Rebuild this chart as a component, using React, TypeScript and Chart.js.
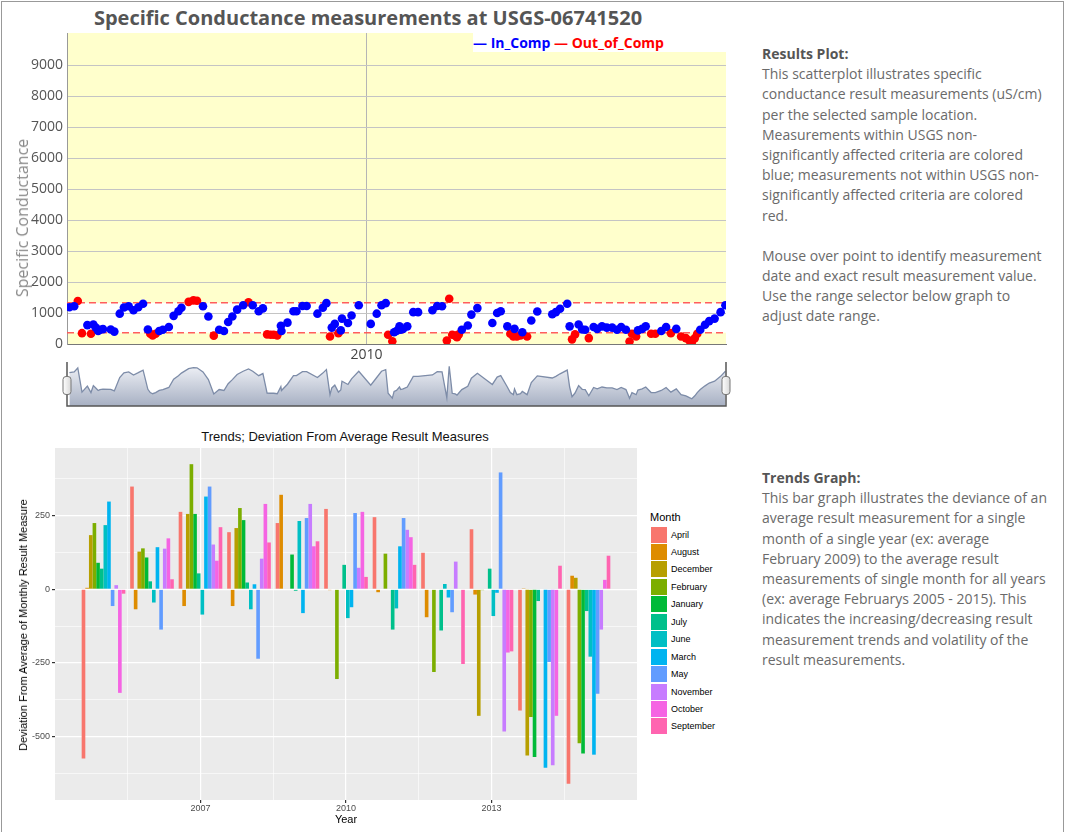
import React, { useEffect, useRef } from 'react';
import { Chart, registerables } from 'chart.js';
Chart.register(...registerables);

// ---------- Top scatter: specific conductance samples ----------
const sampleDates = [
  2005.04, 2005.12, 2005.18, 2005.25, 2005.34, 2005.40, 2005.44, 2005.48, 2005.52, 2005.55,
  2005.60, 2005.73, 2005.79, 2005.88, 2005.95, 2006.03, 2006.11, 2006.19, 2006.27, 2006.35,
  2006.39, 2006.43, 2006.48, 2006.54, 2006.60, 2006.70, 2006.78, 2006.86, 2006.91, 2007.03,
  2007.11, 2007.17, 2007.27, 2007.36, 2007.45, 2007.54, 2007.62, 2007.69, 2007.76, 2007.84,
  2007.94, 2008.03, 2008.10, 2008.20, 2008.27, 2008.34, 2008.40, 2008.45, 2008.51, 2008.57,
  2008.58, 2008.68, 2008.78, 2008.83, 2008.93, 2009.00, 2009.18, 2009.27, 2009.33, 2009.39,
  2009.42, 2009.47, 2009.53, 2009.57, 2009.59, 2009.69, 2009.75, 2009.87, 2010.07, 2010.17,
  2010.25, 2010.32, 2010.36, 2010.43, 2010.46, 2010.50, 2010.55, 2010.57, 2010.61, 2010.68,
  2010.78, 2010.86, 2011.10, 2011.18, 2011.26, 2011.34, 2011.38, 2011.43, 2011.48, 2011.51,
  2011.54, 2011.59, 2011.69, 2011.75, 2011.85, 2012.10, 2012.18, 2012.24, 2012.35, 2012.40,
  2012.45, 2012.47, 2012.51, 2012.57, 2012.60, 2012.68, 2012.75, 2012.85, 2013.10, 2013.16,
  2013.23, 2013.35, 2013.39, 2013.43, 2013.48, 2013.54, 2013.60, 2013.65, 2013.71, 2013.79,
  2013.85, 2013.93, 2014.01, 2014.10, 2014.18, 2014.25, 2014.33, 2014.39, 2014.43, 2014.50,
  2014.53, 2014.60, 2014.66, 2014.75, 2014.82, 2014.92, 2015.00, 2015.08, 2015.17, 2015.25,
  2015.33, 2015.39, 2015.43, 2015.48, 2015.52, 2015.57, 2015.65, 2015.72, 2015.81, 2015.91,
  2015.99,
];
const conductance = [
  1190, 1220, 1390, 350, 610, 330, 630, 530, 420, 460,
  480, 470, 400, 980, 1180, 1220, 1090, 1190, 1300, 470,
  330, 280, 330, 420, 460, 550, 910, 1060, 1170, 1360,
  1410, 1400, 1220, 890, 270, 460, 420, 710, 890, 1110,
  1250, 1350, 1250, 1060, 1150, 310, 300, 300, 280, 590,
  420, 690, 1060, 1060, 1230, 1230, 980, 1170, 1320, 240,
  530, 650, 350, 440, 820, 680, 920, 1250, 650, 980,
  1250, 1320, 300, 90, 380, 420, 570, 460, 490, 570,
  1030, 1030, 1090, 1230, 1220, 110, 1460, 300, 270, 220,
  310, 460, 600, 950, 1160, 680, 1000, 1060, 570, 330,
  240, 490, 240, 280, 380, 240, 760, 1050, 960, 1030,
  1140, 1300, 570, 150, 310, 630, 470, 460, 190, 550,
  490, 570, 530, 530, 460, 550, 460, 80, 330, 240,
  440, 490, 570, 330, 330, 420, 550, 350, 490, 240,
  190, 110, 60, 190, 330, 460, 620, 740, 820, 1030,
  1250,
];
const upperCriterion = 1330;
const lowerCriterion = 365;
const topYLabels = [0, 1000, 2000, 3000, 4000, 5000, 6000, 7000, 8000, 9000];
const topXLabels = [2010];

// ---------- Bottom bars: deviation by month and year ----------
const barYears = [2005, 2006, 2007, 2008, 2009, 2010, 2011, 2012, 2013, 2014, 2015];
const monthNames = ['April', 'August', 'December', 'February', 'January', 'July', 'June', 'March', 'May', 'November', 'October', 'September'];
const monthColors = ['#F8766D', '#DE8C00', '#B79F00', '#7CAE00', '#00BA38', '#00C08B', '#00BFC4', '#00B4F0', '#619CFF', '#C77CFF', '#F564E3', '#FF64B0'];
const aprilDev = [-575, 349, 263, 194, 225, 273, 245, 124, 204, -412, -661];
const augustDev = [5, -68, -57, -57, 321, -3, -10, -95, -18, 3, 46];
const decemberDev = [184, 128, 256, 208, null, null, null, null, -430, -565, 39];
const februaryDev = [225, 139, 425, 276, null, -305, 121, -281, -3, -434, -523];
const januaryDev = [90, 108, 256, 235, 118, null, null, null, null, -570, -558];
const julyDev = [70, 27, 54, 23, -5, 83, -137, -140, 70, -40, -74];
const juneDev = [218, -45, -86, -68, 232, -98, -65, 18, -91, null, -229];
const marchDev = [298, 143, 315, 17, -81, -61, 146, -28, -12, -606, -562];
const mayDev = [-57, -137, 349, -236, 242, 259, 242, -78, 397, -247, -355];
const novemberDev = [14, 138, 152, 104, 290, 73, 202, 94, -483, -598, -137];
const octoberDev = [-352, 173, 97, 290, 146, 263, 177, null, -215, -430, 32];
const septemberDev = [-15, 34, 211, 159, 163, 42, 83, -254, -211, 80, 114];
const monthSeries = [aprilDev, augustDev, decemberDev, februaryDev, januaryDev, julyDev, juneDev, marchDev, mayDev, novemberDev, octoberDev, septemberDev];
const barYLabels = [-500, -250, 0, 250];
const barXLabels = [2007, 2010, 2013];

const resultsText = [
  'This scatterplot illustrates specific',
  'conductance result measurements (uS/cm)',
  'per the selected sample location.',
  'Measurements within USGS non-',
  'significantly affected criteria are colored',
  'blue; measurements not within USGS non-',
  'significantly affected criteria are colored',
  'red.',
  '',
  'Mouse over point to identify measurement',
  'date and exact result measurement value.',
  'Use the range selector below graph to',
  'adjust date range.',
];
const trendsText = [
  'This bar graph illustrates the deviance of an',
  'average result measurement for a single',
  'month of a single year (ex: average',
  'February 2009) to the average result',
  'measurements of single month for all years',
  '(ex: average Februarys 2005 - 2015). This',
  'indicates the increasing/decreasing result',
  'measurement trends and volatility of the',
  'result measurements.',
];

const OPEN = '"Open Sans", "DejaVu Sans", sans-serif';
const LIB = '"Liberation Sans", Arial, sans-serif';

export default function App() {
  const scatterRef = useRef<HTMLCanvasElement>(null);
  const rangeRef = useRef<HTMLCanvasElement>(null);
  const barRef = useRef<HTMLCanvasElement>(null);

  useEffect(() => {
    const charts: Chart[] = [];

    // ---- scatter ----
    const inPts: { x: number; y: number }[] = [];
    const outPts: { x: number; y: number }[] = [];
    sampleDates.forEach((d, i) => {
      const v = conductance[i];
      (v > upperCriterion || v < lowerCriterion ? outPts : inPts).push({ x: d, y: v });
    });
    const xMin = 2005, xMax = 2016;
    const bandPlugin = {
      id: 'bands',
      beforeDraw(chart: any) {
        const { ctx, chartArea, scales } = chart;
        const { left, right, top, bottom } = chartArea;
        ctx.save();
        ctx.fillStyle = '#FFFFCC';
        ctx.fillRect(left, top, right - left, bottom - top);
        const yU = scales.y.getPixelForValue(upperCriterion);
        const yL = scales.y.getPixelForValue(lowerCriterion);
        ctx.fillStyle = '#FFFFFF';
        ctx.fillRect(left, yU, right - left, yL - yU);
        ctx.restore();
      },
    };
    charts.push(new Chart(scatterRef.current!, {
      type: 'scatter',
      data: {
        datasets: [
          { type: 'scatter', label: 'In_Comp', data: inPts, backgroundColor: '#0000FF', pointRadius: 4.3, borderWidth: 0, order: 1 },
          { type: 'scatter', label: 'Out_of_Comp', data: outPts, backgroundColor: '#FF0000', pointRadius: 4.3, borderWidth: 0, order: 2 },
          { type: 'line', label: 'upper', data: [{ x: xMin, y: upperCriterion }, { x: xMax, y: upperCriterion }], borderColor: 'rgba(255,85,85,0.95)', borderWidth: 1.5, borderDash: [7, 4], pointRadius: 0, order: 3 },
          { type: 'line', label: 'lower', data: [{ x: xMin, y: lowerCriterion }, { x: xMax, y: lowerCriterion }], borderColor: 'rgba(255,85,85,0.95)', borderWidth: 1.5, borderDash: [7, 4], pointRadius: 0, order: 3 },
        ],
      } as any,
      options: {
        responsive: false,
        animation: false,
        devicePixelRatio: 1,
        layout: { padding: { top: 32, right: 14, left: 0, bottom: 0 } },
        plugins: { legend: { display: false }, tooltip: { enabled: false } },
        scales: {
          x: {
            type: 'linear', min: xMin, max: xMax,
            afterBuildTicks: (s: any) => { s.ticks = topXLabels.map((v) => ({ value: v })); },
            afterFit: (s: any) => { s.height = 22; },
            grid: { color: '#b5b5b5', drawTicks: false },
            border: { color: '#777', width: 1 },
            ticks: { font: { family: OPEN, size: 14 }, color: '#444', padding: 3, callback: (v: any) => String(v) },
          },
          y: {
            type: 'linear', min: 0, max: 10050,
            afterBuildTicks: (s: any) => { s.ticks = topYLabels.map((v) => ({ value: v })); },
            afterFit: (s: any) => { s.width = 67; },
            grid: { color: '#c4c4c4', drawTicks: false },
            border: { color: '#999', width: 1 },
            ticks: { font: { family: OPEN, size: 14 }, color: '#555', padding: 4, callback: (v: any) => String(v) },
          },
        },
      } as any,
      plugins: [bandPlugin],
    }));

    // ---- range selector ----
    const rangePlugin = {
      id: 'rangeFrame',
      afterDraw(chart: any) {
        const { ctx, chartArea } = chart;
        const { left, right, top, bottom } = chartArea;
        ctx.save();
        ctx.strokeStyle = '#555';
        ctx.lineWidth = 1.5;
        ctx.beginPath();
        ctx.moveTo(left, top - 3);
        ctx.lineTo(left, bottom);
        ctx.lineTo(right, bottom);
        ctx.lineTo(right, top - 3);
        ctx.stroke();
        const mid = (top + bottom) / 2;
        [left, right].forEach((x) => {
          const w = 8, h = 18, r = 3;
          const g = ctx.createLinearGradient(x - w / 2, 0, x + w / 2, 0);
          g.addColorStop(0, '#ffffff');
          g.addColorStop(1, '#d8d8d8');
          ctx.beginPath();
          ctx.roundRect(x - w / 2, mid - h / 2, w, h, r);
          ctx.fillStyle = g;
          ctx.fill();
          ctx.lineWidth = 1;
          ctx.strokeStyle = '#777';
          ctx.stroke();
        });
        ctx.restore();
      },
    };
    charts.push(new Chart(rangeRef.current!, {
      type: 'line',
      data: {
        datasets: [{
          data: sampleDates.map((d, i) => ({ x: d, y: conductance[i] })),
          borderColor: '#7D8CA8',
          borderWidth: 1.3,
          pointRadius: 0,
          fill: 'start',
          backgroundColor: (c: any) => {
            const area = c.chart.chartArea;
            if (!area) return 'rgba(180,188,205,0.7)';
            const g = c.chart.ctx.createLinearGradient(0, area.top, 0, area.bottom);
            g.addColorStop(0, '#F0F2F7');
            g.addColorStop(1, '#A7B0C3');
            return g;
          },
        }],
      } as any,
      options: {
        responsive: false,
        animation: false,
        devicePixelRatio: 1,
        layout: { padding: { top: 5, right: 14, left: 67, bottom: 4 } },
        plugins: { legend: { display: false }, tooltip: { enabled: false } },
        scales: {
          x: { type: 'linear', min: xMin, max: xMax, display: false },
          y: { type: 'linear', min: -250, max: 1520, display: false },
        },
      } as any,
      plugins: [rangePlugin],
    }));

    // ---- bars ----
    const panelPlugin = {
      id: 'panel',
      beforeDraw(chart: any) {
        const { ctx, chartArea } = chart;
        ctx.save();
        ctx.fillStyle = '#EBEBEB';
        ctx.fillRect(chartArea.left, chartArea.top, chartArea.right - chartArea.left, chartArea.bottom - chartArea.top);
        ctx.restore();
      },
    };
    const isMajorX = (v: number) => barXLabels.includes(v);
    const isMajorY = (v: number) => barYLabels.includes(v);
    charts.push(new Chart(barRef.current!, {
      type: 'bar',
      data: {
        datasets: monthNames.map((m, i) => ({
          label: m,
          data: barYears.map((yr, j) => ({ x: yr, y: monthSeries[i][j] })),
          backgroundColor: monthColors[i],
          borderWidth: 0,
          categoryPercentage: 0.9,
          barPercentage: 1,
        })),
      } as any,
      options: {
        responsive: false,
        animation: false,
        devicePixelRatio: 1,
        layout: { padding: { top: 23, right: 8, left: 0, bottom: 0 } },
        plugins: { legend: { display: false }, tooltip: { enabled: false } },
        scales: {
          x: {
            type: 'linear', min: 2004, max: 2016, offset: false,
            afterBuildTicks: (s: any) => {
              s.ticks = s.ticks.filter((t: any) => t.value > s.min + 0.01 && t.value < s.max - 0.01);
            },
            afterFit: (s: any) => { s.height = 32; },
            grid: {
              offset: false,
              color: '#FFFFFF',
              lineWidth: (c: any) => (c.tick && isMajorX(c.tick.value) ? 1.2 : 0.6),
              drawTicks: true,
              tickLength: 3,
              tickColor: (c: any) => (c.tick && isMajorX(c.tick.value) ? '#333333' : 'rgba(0,0,0,0)'),
            },
            border: { display: false },
            ticks: {
              stepSize: 1.5,
              autoSkip: false,
              maxRotation: 0,
              font: { family: LIB, size: 9 },
              color: '#4D4D4D',
              padding: 0,
              callback: (v: any) => (isMajorX(Number(v)) ? String(v) : ''),
            },
          },
          y: {
            type: 'linear', min: -716, max: 480,
            afterBuildTicks: (s: any) => {
              s.ticks = s.ticks.filter((t: any) => t.value > s.min + 0.01 && t.value < s.max - 0.01);
            },
            afterFit: (s: any) => { s.width = 55; },
            grid: {
              color: '#FFFFFF',
              lineWidth: (c: any) => (c.tick && isMajorY(c.tick.value) ? 1.2 : 0.6),
              drawTicks: true,
              tickLength: 3,
              tickColor: (c: any) => (c.tick && isMajorY(c.tick.value) ? '#333333' : 'rgba(0,0,0,0)'),
            },
            border: { display: false },
            ticks: {
              stepSize: 125,
              autoSkip: false,
              font: { family: LIB, size: 9 },
              color: '#4D4D4D',
              padding: 2,
              callback: (v: any) => (isMajorY(Number(v)) ? String(v) : ''),
            },
          },
        },
      } as any,
      plugins: [panelPlugin],
    }));

    return () => charts.forEach((c) => c.destroy());
  }, []);

  const abs = (s: React.CSSProperties): React.CSSProperties => ({ position: 'absolute', ...s });

  return (
    <div style={abs({ left: 0, top: 0, width: 1066, height: 832, overflow: 'hidden', background: '#fff' })}>
      <div style={abs({ left: 1, top: 1, width: 1061, height: 840, borderLeft: '1px solid #999', borderTop: '1px solid #999', borderRight: '1px solid #999' })} />

      {/* top chart */}
      <div style={abs({ left: 0, top: 6, width: 736, textAlign: 'center', font: `bold 20px ${OPEN}`, color: '#555', lineHeight: '24px' })}>
        Specific Conductance measurements at USGS-06741520
      </div>
      <canvas ref={scatterRef} width={740} height={365} style={abs({ left: 0, top: 1 })} />
      <canvas ref={rangeRef} width={740} height={50} style={abs({ left: 0, top: 360 })} />
      <div style={abs({ left: 22, top: 218, transform: 'translate(-50%, -50%) rotate(-90deg)', whiteSpace: 'nowrap', font: `16px ${OPEN}`, color: '#8a8a8a' })}>
        Specific Conductance
      </div>
      <div style={abs({ left: 473, top: 33, width: 253, height: 19, background: '#fff', font: `bold 14px ${OPEN}`, lineHeight: '19px', whiteSpace: 'nowrap' })}>
        <span style={{ color: '#0000FF' }}>— In_Comp</span>{' '}
        <span style={{ color: '#FF0000' }}>— Out_of_Comp</span>
      </div>

      {/* bottom chart */}
      <div style={abs({ left: 145, top: 429, width: 400, textAlign: 'center', font: `13px ${LIB}`, color: '#111', lineHeight: '16px' })}>
        Trends; Deviation From Average Result Measures
      </div>
      <canvas ref={barRef} width={645} height={407} style={abs({ left: 0, top: 425 })} />
      <div style={abs({ left: 23, top: 625, transform: 'translate(-50%, -50%) rotate(-90deg)', whiteSpace: 'nowrap', font: `11px ${LIB}`, color: '#000' })}>
        Deviation From Average of Monthly Result Measure
      </div>
      <div style={abs({ left: 296, top: 812, width: 100, textAlign: 'center', font: `11px ${LIB}`, color: '#000', lineHeight: '14px' })}>
        Year
      </div>
      <div style={abs({ left: 650, top: 510, font: `11px ${LIB}`, color: '#000', lineHeight: '14px' })}>Month</div>
      {monthNames.map((m, i) => (
        <div key={m} style={abs({ left: 651, top: 526 + i * 17.45, height: 17, display: 'flex', alignItems: 'center' })}>
          <div style={{ width: 16, height: 16, background: monthColors[i] }} />
          <div style={{ marginLeft: 4, font: `9px ${LIB}`, color: '#000' }}>{m}</div>
        </div>
      ))}

      {/* right-hand texts */}
      <div style={abs({ left: 762, top: 44, font: `14px ${OPEN}`, lineHeight: '20.2px', color: '#6a6a6a', whiteSpace: 'nowrap' })}>
        <div style={{ fontWeight: 'bold', color: '#555' }}>Results Plot:</div>
        {resultsText.map((t, i) => <div key={i} style={{ height: 20.2 }}>{t}</div>)}
      </div>
      <div style={abs({ left: 762, top: 468, font: `14px ${OPEN}`, lineHeight: '20.2px', color: '#6a6a6a', whiteSpace: 'nowrap' })}>
        <div style={{ fontWeight: 'bold', color: '#555' }}>Trends Graph:</div>
        {trendsText.map((t, i) => <div key={i} style={{ height: 20.2 }}>{t}</div>)}
      </div>
    </div>
  );
}
